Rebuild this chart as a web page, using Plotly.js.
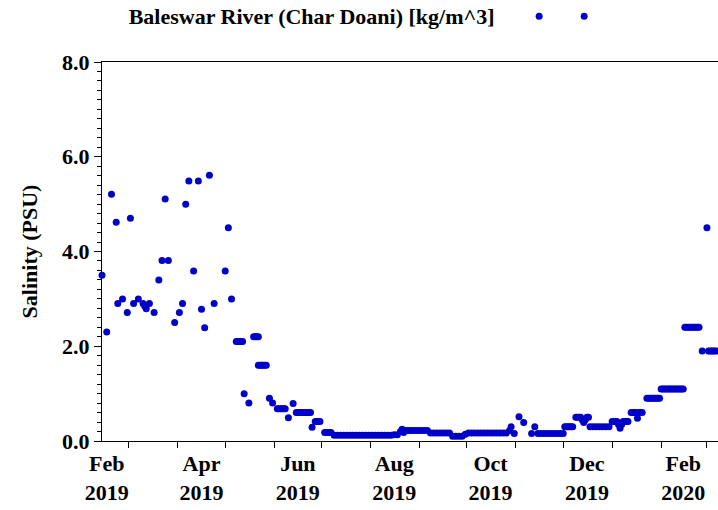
<!DOCTYPE html>
<html>
<head>
<meta charset="utf-8">
<script src="https://cdn.plot.ly/plotly-3.0.1.min.js"></script>
<style>html,body{margin:0;padding:0;background:#fff;}</style>
</head>
<body>
<div id="chart" style="width:718px;height:510px;"></div>
<script>
// Series: Baleswar River (Char Doani) salinity
const dates = [
  "2019-02-12","2019-02-15","2019-02-18","2019-02-21","2019-02-22","2019-02-25","2019-02-28",
  "2019-03-02","2019-03-04","2019-03-07","2019-03-10","2019-03-11","2019-03-12","2019-03-14",
  "2019-03-17","2019-03-20","2019-03-22","2019-03-24","2019-03-26","2019-03-30",
  "2019-04-02","2019-04-04","2019-04-06","2019-04-08","2019-04-11","2019-04-14","2019-04-16",
  "2019-04-18","2019-04-21","2019-04-24",
  "2019-05-01","2019-05-03","2019-05-05","2019-05-08","2019-05-09","2019-05-10","2019-05-11",
  "2019-05-12","2019-05-13","2019-05-16","2019-05-19","2019-05-20","2019-05-21","2019-05-22",
  "2019-05-22","2019-05-23","2019-05-24","2019-05-25","2019-05-26","2019-05-27","2019-05-29",
  "2019-05-31",
  "2019-06-03","2019-06-04","2019-06-05","2019-06-06","2019-06-07","2019-06-08","2019-06-10",
  "2019-06-13","2019-06-15","2019-06-16","2019-06-17","2019-06-18","2019-06-19","2019-06-20",
  "2019-06-21","2019-06-22","2019-06-23","2019-06-24","2019-06-25","2019-06-27","2019-06-28",
  "2019-06-29","2019-06-30",
  "2019-07-03","2019-07-04","2019-07-05","2019-07-06","2019-07-07","2019-07-09","2019-07-11",
  "2019-07-13","2019-07-15","2019-07-17","2019-07-19","2019-07-21","2019-07-23","2019-07-25",
  "2019-07-27","2019-07-29","2019-07-31",
  "2019-08-02","2019-08-04","2019-08-06","2019-08-08","2019-08-10","2019-08-12","2019-08-14",
  "2019-08-16","2019-08-18","2019-08-20","2019-08-21","2019-08-22","2019-08-23","2019-08-25",
  "2019-08-27","2019-08-29","2019-08-31",
  "2019-09-02","2019-09-04","2019-09-06","2019-09-08","2019-09-10","2019-09-12","2019-09-14",
  "2019-09-16","2019-09-18","2019-09-20","2019-09-22","2019-09-24","2019-09-26","2019-09-28",
  "2019-09-30",
  "2019-10-02","2019-10-04","2019-10-06","2019-10-08","2019-10-10","2019-10-12","2019-10-14",
  "2019-10-16","2019-10-18","2019-10-20","2019-10-22","2019-10-24","2019-10-26","2019-10-28",
  "2019-10-29","2019-10-31",
  "2019-11-03","2019-11-06","2019-11-11","2019-11-13","2019-11-15","2019-11-17","2019-11-19",
  "2019-11-21","2019-11-23","2019-11-25","2019-11-27","2019-11-29",
  "2019-12-01","2019-12-02","2019-12-03","2019-12-04","2019-12-05","2019-12-06","2019-12-07",
  "2019-12-09","2019-12-10","2019-12-11","2019-12-12","2019-12-13","2019-12-14","2019-12-15",
  "2019-12-16","2019-12-17","2019-12-18","2019-12-20","2019-12-22","2019-12-24","2019-12-26",
  "2019-12-28","2019-12-30",
  "2020-01-01","2020-01-02","2020-01-03","2020-01-04","2020-01-05","2020-01-06","2020-01-07",
  "2020-01-08","2020-01-09","2020-01-10","2020-01-11","2020-01-13","2020-01-14","2020-01-15",
  "2020-01-16","2020-01-17","2020-01-18","2020-01-19","2020-01-20","2020-01-23","2020-01-24",
  "2020-01-25","2020-01-26","2020-01-27","2020-01-28","2020-01-29","2020-01-30","2020-01-31",
  "2020-02-01","2020-02-02","2020-02-03","2020-02-04","2020-02-05","2020-02-06","2020-02-07",
  "2020-02-08","2020-02-09","2020-02-10","2020-02-11","2020-02-12","2020-02-13","2020-02-14",
  "2020-02-15","2020-02-16","2020-02-17","2020-02-18","2020-02-19","2020-02-20","2020-02-21",
  "2020-02-22","2020-02-23","2020-02-24","2020-02-25","2020-02-27",
  "2020-03-01","2020-03-02","2020-03-03","2020-03-04","2020-03-05","2020-03-06","2020-03-07"
];
const salinity = [
  3.50,2.30,5.21,4.62,2.90,3.00,2.71,
  4.70,2.90,3.00,2.90,2.85,2.79,2.90,
  2.71,3.40,3.81,5.11,3.81,2.50,
  2.71,2.90,5.00,5.49,3.59,5.49,2.78,
  2.39,5.61,2.90,
  3.59,4.50,3.00,2.10,2.10,2.10,2.10,
  2.10,1.00,0.80,2.20,2.20,2.20,2.20,
  1.60,1.60,1.60,1.60,1.60,1.60,0.90,
  0.80,
  0.68,0.68,0.68,0.68,0.68,0.68,0.49,
  0.79,0.60,0.60,0.60,0.60,0.60,0.60,
  0.60,0.60,0.60,0.60,0.29,0.41,0.41,
  0.41,0.41,
  0.18,0.18,0.18,0.18,0.18,0.12,0.12,
  0.12,0.12,0.12,0.12,0.12,0.12,0.12,
  0.12,0.12,0.12,
  0.12,0.12,0.12,0.12,0.12,0.12,0.12,
  0.13,0.13,0.20,0.25,0.18,0.22,0.22,
  0.22,0.22,0.22,
  0.22,0.22,0.22,0.17,0.17,0.17,0.17,
  0.17,0.17,0.17,0.10,0.10,0.10,0.10,
  0.14,
  0.17,0.17,0.17,0.17,0.17,0.17,0.17,
  0.17,0.17,0.17,0.17,0.17,0.17,0.22,
  0.30,0.16,
  0.51,0.39,0.16,0.30,0.16,0.16,0.16,
  0.16,0.16,0.16,0.16,0.16,
  0.16,0.30,0.30,0.30,0.30,0.30,0.30,
  0.50,0.50,0.50,0.50,0.45,0.39,0.45,
  0.50,0.50,0.30,0.30,0.30,0.30,0.30,
  0.30,0.30,
  0.41,0.41,0.41,0.41,0.35,0.27,0.35,
  0.41,0.41,0.41,0.41,0.60,0.60,0.60,
  0.60,0.48,0.60,0.60,0.60,0.90,0.90,
  0.90,0.90,0.90,0.90,0.90,0.90,0.90,
  1.10,1.10,1.10,1.10,1.10,1.10,1.10,
  1.10,1.10,1.10,1.10,1.10,1.10,1.10,
  1.10,2.40,2.40,2.40,2.40,2.40,2.40,
  2.40,2.40,2.40,2.40,1.90,
  4.50,1.90,1.90,1.90,1.90,1.90,1.90
];
const seriesName = "Baleswar River (Char Doani) [kg/m^3]";
const tickDates = ["2019-02-15","2019-04-16","2019-06-16","2019-08-16","2019-10-16","2019-12-16","2020-02-15"];
const tickLabels = ["Feb<br>2019","Apr<br>2019","Jun<br>2019","Aug<br>2019","Oct<br>2019","Dec<br>2019","Feb<br>2020"];

const serif = "Liberation Serif, Times New Roman, serif";
const markerStyle = {color: "#0000c8", size: 7};

const traces = [
  {x: dates, y: salinity, type: "scatter", mode: "markers", marker: markerStyle,
   name: "", showlegend: true, cliponaxis: false, hoverinfo: "x+y"},
  // legend-only sample: the reference legend shows the marker style as two dots
  {x: [null], y: [null], type: "scatter", mode: "markers", marker: markerStyle,
   name: "", showlegend: true}
];

const layout = {
  width: 718, height: 510,
  margin: {l: 102, r: 0, t: 62, b: 69, autoexpand: false},
  paper_bgcolor: "#ffffff", plot_bgcolor: "#ffffff",
  font: {family: serif, color: "#000000"},
  showlegend: true,
  legend: {
    orientation: "h", x: 0.04, y: 1.12, xanchor: "left", yanchor: "middle",
    bgcolor: "rgba(0,0,0,0)", itemwidth: 30,
    title: {text: seriesName + "&nbsp;&nbsp;&nbsp;", side: "left", font: {size: 22, weight: "bold", family: serif}},
    font: {size: 22, family: serif}
  },
  xaxis: {
    type: "date", range: ["2019-02-12", "2020-03-08"],
    tickmode: "array", tickvals: tickDates, ticktext: tickLabels,
    ticks: "", ticklabelstandoff: 3,
    tickfont: {size: 22, weight: "bold", family: serif},
    showline: true, linecolor: "#000000", linewidth: 1, mirror: true,
    showgrid: false, zeroline: false,
    minor: {ticks: "outside", ticklen: 6, tickcolor: "#000000", dtick: "M1", tick0: "2019-01-01", showgrid: false}
  },
  yaxis: {
    range: [0, 8], dtick: 2, tick0: 0, tickformat: ".1f",
    ticks: "outside", ticklen: 7, tickcolor: "#000000",
    tickfont: {size: 22, weight: "bold", family: serif},
    showline: true, linecolor: "#000000", linewidth: 1, mirror: false,
    showgrid: false, zeroline: false,
    minor: {ticks: "outside", ticklen: 4, tickcolor: "#000000", dtick: 0.2, showgrid: false},
    title: {text: "Salinity (PSU)", font: {size: 22, weight: "bold", family: serif}, standoff: 18}
  }
};

Plotly.newPlot("chart", traces, layout, {displayModeBar: false, staticPlot: true});
</script>
</body>
</html>
